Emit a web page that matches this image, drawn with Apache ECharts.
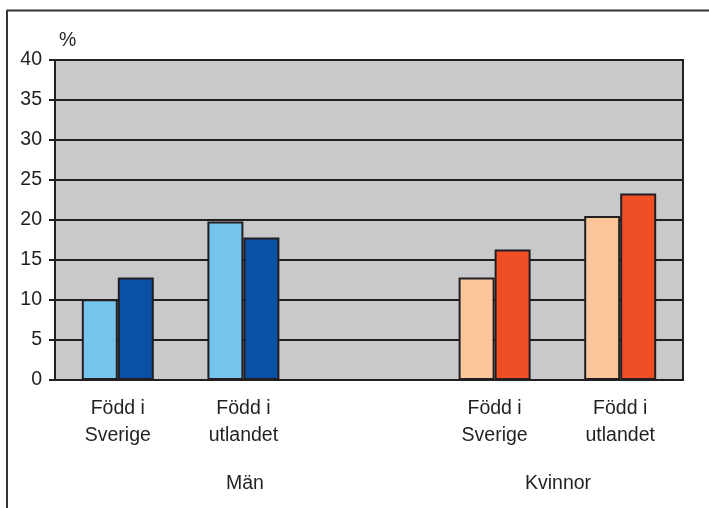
<!DOCTYPE html>
<html>
<head>
<meta charset="utf-8">
<script src="https://cdn.jsdelivr.net/npm/echarts@6/dist/echarts.min.js"></script>
<style>
  html, body { margin: 0; padding: 0; background: #ffffff; }
  #chart { width: 709px; height: 508px; }
</style>
</head>
<body>
<div id="chart"></div>
<script>
// Categories along the x axis (the middle slot is an empty spacer between the groups)
const categories = ['Född i\nSverige', 'Född i\nutlandet', '', 'Född i\nSverige', 'Född i\nutlandet'];
// Group labels under the categories
const groupLabels = ['Män', 'Kvinnor'];
// First and second bar of each category (%)
const firstBar = [10.1, 19.8, null, 12.8, 20.5];
const secondBar = [12.8, 17.8, null, 16.3, 23.3];
// Y axis ticks
const yTicks = [0, 5, 10, 15, 20, 25, 30, 35, 40];
const yUnit = '%';

const firstColors = ['#74c4ee', '#74c4ee', '#74c4ee', '#fbc79a', '#fbc79a'];
const secondColors = ['#0a50a4', '#0a50a4', '#0a50a4', '#f04e25', '#f04e25'];
const ink = '#231f20';
const font = '"Liberation Sans", Arial, sans-serif';
const fontSize = 19.5;

function coloured(values, colors) {
  return values.map((v, i) => ({ value: v, itemStyle: { color: colors[i] } }));
}

const chart = echarts.init(document.getElementById('chart'), null, { renderer: 'canvas' });
chart.setOption({
  animation: false,
  backgroundColor: '#ffffff',
  grid: {
    left: 55, right: 26, top: 60, bottom: 128,
    show: true, backgroundColor: '#c8c9cb', borderColor: ink, borderWidth: 2
  },
  xAxis: {
    type: 'category',
    data: categories,
    axisLine: { show: true, lineStyle: { color: ink, width: 2 } },
    axisTick: { show: false },
    axisLabel: {
      color: '#231f20', fontFamily: font, fontSize: fontSize, lineHeight: 27,
      margin: 15, interval: 0
    }
  },
  yAxis: {
    type: 'value',
    min: yTicks[0], max: yTicks[yTicks.length - 1], interval: 5,
    axisLine: { show: true, lineStyle: { color: ink, width: 2 } },
    axisTick: { show: true, length: 6, lineStyle: { color: ink, width: 2 } },
    axisLabel: { color: '#231f20', fontFamily: font, fontSize: fontSize, margin: 13 },
    splitLine: { show: true, lineStyle: { color: ink, width: 2 } }
  },
  series: [
    {
      type: 'bar', data: coloured(firstBar, firstColors),
      barWidth: 36, barGap: '0%',
      itemStyle: { borderColor: ink, borderWidth: 2 }
    },
    {
      type: 'bar', data: coloured(secondBar, secondColors),
      barWidth: 36, barGap: '0%',
      itemStyle: { borderColor: ink, borderWidth: 2 }
    }
  ],
  graphic: [
    // Outer frame (top and left edges)
    { type: 'line', shape: { x1: 7, y1: 10.5, x2: 709, y2: 10.5 }, style: { stroke: '#333333', lineWidth: 2 } },
    { type: 'line', shape: { x1: 7, y1: 10, x2: 7, y2: 508 }, style: { stroke: '#333333', lineWidth: 2 } },
    { type: 'text', left: 59, top: 31, style: { text: yUnit, font: fontSize + 'px ' + font, fill: '#231f20' } },
    { type: 'text', x: 245, y: 484, style: { text: groupLabels[0], font: fontSize + 'px ' + font, fill: '#231f20', align: 'center', verticalAlign: 'middle' } },
    { type: 'text', x: 558, y: 484, style: { text: groupLabels[1], font: fontSize + 'px ' + font, fill: '#231f20', align: 'center', verticalAlign: 'middle' } }
  ]
});
</script>
</body>
</html>
